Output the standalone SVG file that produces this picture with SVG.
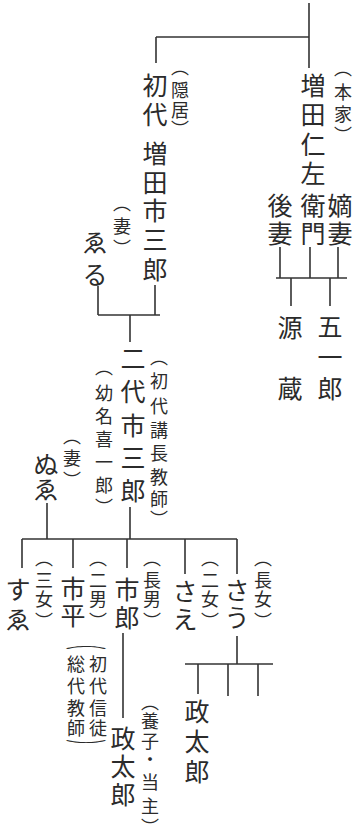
<svg xmlns="http://www.w3.org/2000/svg" width="355" height="838" viewBox="0 0 355 838">
<style>
text{font-family:"Noto Sans CJK JP","Noto Sans CJK SC",sans-serif;fill:#2b2b2b;text-anchor:middle;dominant-baseline:central}
.n{font-size:25px}
.a{font-size:18px}
.b{font-size:12px}
.c line{stroke:#333;stroke-width:1.6;fill:none}
</style>
<rect width="355" height="838" fill="#fff"/>
<g id="connectors" class="c">
<line x1="309" y1="3" x2="309" y2="68"/>
<line x1="156" y1="37" x2="309" y2="37"/>
<line x1="156" y1="37" x2="156" y2="63"/>
<line x1="280" y1="247" x2="280" y2="278"/>
<line x1="310" y1="247" x2="310" y2="278"/>
<line x1="338" y1="247" x2="338" y2="278"/>
<line x1="276" y1="278" x2="347" y2="278"/>
<line x1="291" y1="278" x2="291" y2="306"/>
<line x1="330" y1="278" x2="330" y2="306"/>
<line x1="98" y1="286" x2="98" y2="315"/>
<line x1="155" y1="285" x2="155" y2="315"/>
<line x1="98" y1="315" x2="160" y2="315"/>
<line x1="130" y1="315" x2="130" y2="342"/>
<line x1="47" y1="503" x2="47" y2="539"/>
<line x1="130" y1="507" x2="130" y2="539"/>
<line x1="22" y1="539" x2="237" y2="539"/>
<line x1="22" y1="539" x2="22" y2="568"/>
<line x1="73" y1="539" x2="73" y2="568"/>
<line x1="127" y1="539" x2="127" y2="568"/>
<line x1="185" y1="539" x2="185" y2="574"/>
<line x1="237" y1="539" x2="237" y2="574"/>
<line x1="123" y1="633" x2="123" y2="718"/>
<line x1="237" y1="636" x2="237" y2="664"/>
<line x1="185" y1="664" x2="273" y2="664"/>
<line x1="198" y1="664" x2="198" y2="694"/>
<line x1="228" y1="664" x2="228" y2="696"/>
<line x1="258" y1="664" x2="258" y2="696"/>
</g>
<g id="jinzaemon">
<text class="n" x="313 313 313 313 313 313" y="84 113 143 172 204 232">増田仁左衛門</text>
<text class="a" x="343 343 343 343" y="67 91 113 134">︵本家︶</text>
</g>
<g id="gosai">
<text class="n" x="280 280" y="204 232">後妻</text>
</g>
<g id="chakusai">
<text class="n" x="340 340" y="204 232">嫡妻</text>
</g>
<g id="genzo">
<text class="n" x="290 290" y="326 387">源蔵</text>
</g>
<g id="goichiro">
<text class="n" x="330 330 330" y="325 356 387">五一郎</text>
</g>
<g id="ichisaburo1">
<text class="n" x="155 155 155 155 155 155 155" y="84 113 152 181 209 238 268">初代増田市三郎</text>
<text class="a" x="180 180 180 180" y="66 89 109 128">︵隠居︶</text>
</g>
<g id="eru">
<text class="a" x="122 122 122" y="202 225 247">︵妻︶</text>
<text class="n" x="95 95" y="241 273">ゑる</text>
</g>
<g id="ichisaburo2">
<text class="n" x="133 133 133 133 133" y="357 390 424 456 489">二代市三郎</text>
<text class="a" x="159 159 159 159 159 159 159 159" y="356 380 405 429 452 476 498 518">︵初代講長教師︶</text>
<text class="a" x="104 104 104 104 104 104 104" y="366 392 415 438 461 484 506">︵幼名喜一郎︶</text>
</g>
<g id="nue">
<text class="a" x="72 72 72" y="435 457 479">︵妻︶</text>
<text class="n" x="46 46" y="463 488">ぬゑ</text>
</g>
<g id="sue">
<text class="n" x="18 18" y="588 618">すゑ</text>
<text class="a" x="44 44 44 44" y="557 579 598 620">︵三女︶</text>
</g>
<g id="ichihei">
<text class="n" x="73 73" y="587 614">市平</text>
<text class="a" x="98 98 98 98" y="557 579 598 620">︵二男︶</text>
<text class="b" transform="translate(86,643) scale(3.5,1)" x="0" y="0">︵</text>
<text class="a" x="98 98 98 98" y="663 685 707 727">初代信徒</text>
<text class="a" x="76 76 76 76" y="663 685 707 727">総代教師</text>
<text class="b" transform="translate(86,746) scale(3.5,1)" x="0" y="0">︶</text>
</g>
<g id="ichiro">
<text class="n" x="127 127" y="588 616">市郎</text>
<text class="a" x="152 152 152 152" y="557 579 598 620">︵長男︶</text>
</g>
<g id="sae">
<text class="n" x="185 185" y="590 618">さえ</text>
<text class="a" x="210 210 210 210" y="557 579 598 620">︵二女︶</text>
</g>
<g id="sau">
<text class="n" x="237 237" y="589 616">さう</text>
<text class="a" x="263 263 263 263" y="557 579 598 620">︵長女︶</text>
</g>
<g id="masataro1">
<text class="n" x="123 123 123" y="737 765 793">政太郎</text>
<text class="a" x="150 150 150 150 150 150 150" y="701 720 740 758 781 805 826">︵養子・当主︶</text>
</g>
<g id="masataro2">
<text class="n" x="197 197 197" y="710 740 770">政太郎</text>
</g>
</svg>
